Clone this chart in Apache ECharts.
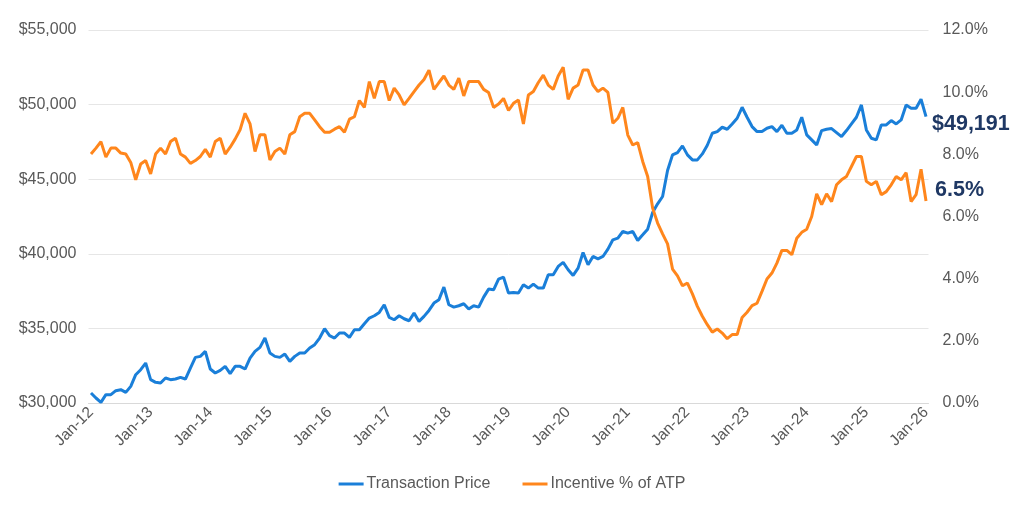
<!DOCTYPE html>
<html><head><meta charset="utf-8">
<script src="https://cdn.jsdelivr.net/npm/echarts@6/dist/echarts.min.js"></script>
<style>html,body{margin:0;padding:0;background:#fff}#c{width:1024px;height:508px}</style>
</head><body><div id="c"></div>
<script>
const monthNames = ['Jan','Feb','Mar','Apr','May','Jun','Jul','Aug','Sep','Oct','Nov','Dec'];
const yearLabels = ['12','13','14','15','16','17','18','19','20','21','22','23','24','25','26'];

const transactionPrice = [
30670,30335,30045,30558,30558,30826,30893,30714,31116,31897,32232,32679,
31563,31384,31339,31674,31563,31607,31719,31607,32344,33058,33125,33460,
32277,32009,32188,32455,31964,32455,32455,32277,33013,33460,33728,34353,
33348,33125,33058,33281,32790,33125,33348,33348,33683,33906,34353,34978,
34509,34353,34688,34688,34397,34911,34911,35313,35692,35848,36071,36585,
35737,35580,35848,35647,35513,36027,35469,35804,36205,36696,36920,37768,
36585,36429,36518,36652,36295,36518,36429,37098,37634,37589,38304,38438,
37366,37411,37366,37924,37701,37969,37701,37701,38594,38594,39152,39420,
38929,38549,39040,40089,39263,39821,39665,39821,40313,40938,41049,41496,
41384,41496,40893,41272,41652,42768,43348,43839,45580,46629,46786,47232,
46629,46295,46295,46696,47277,48080,48192,48482,48348,48705,49085,49821,
49152,48527,48192,48192,48415,48527,48192,48616,48080,48080,48304,49152,
47969,47634,47299,48259,48348,48393,48125,47857,48259,48705,49152,49978,
48304,47746,47634,48638,48638,48929,48705,48973,49978,49754,49754,50357,
49191
];

const incentivePct = [
8.01,8.20,8.41,7.91,8.20,8.20,8.04,8.01,7.74,7.18,7.69,7.80,
7.37,8.01,8.20,8.01,8.41,8.52,8.01,7.91,7.71,7.80,7.93,8.16,
7.91,8.41,8.52,8.01,8.23,8.49,8.79,9.32,8.98,8.09,8.63,8.63,
7.82,8.09,8.20,8.01,8.63,8.73,9.21,9.32,9.32,9.11,8.89,8.71,
8.71,8.81,8.89,8.71,9.13,9.21,9.73,9.51,10.34,9.80,10.34,10.34,
9.73,10.13,9.91,9.59,9.80,10.02,10.23,10.41,10.71,10.09,10.31,10.52,
10.23,10.09,10.45,9.88,10.34,10.34,10.34,10.09,9.99,9.51,9.62,9.80,
9.41,9.64,9.75,8.98,9.91,10.02,10.31,10.55,10.23,10.09,10.52,10.80,
9.77,10.13,10.23,10.71,10.71,10.23,10.02,10.13,9.99,9.00,9.16,9.51,
8.62,8.30,8.38,7.77,7.29,6.27,5.79,5.44,5.12,4.31,4.09,3.77,
3.86,3.51,3.11,2.79,2.52,2.28,2.38,2.25,2.07,2.20,2.20,2.75,
2.92,3.13,3.21,3.59,3.99,4.18,4.50,4.91,4.91,4.77,5.30,5.49,
5.59,6.00,6.73,6.38,6.73,6.48,7.02,7.18,7.29,7.61,7.93,7.93,
7.13,7.02,7.13,6.70,6.80,7.02,7.29,7.18,7.41,6.48,6.70,7.52,
6.50
];

const categories = [];
for (let y = 0; y < yearLabels.length; y++) {
  for (let m = 0; m < 12; m++) {
    if (y === yearLabels.length - 1 && m > 0) break;
    categories.push(monthNames[m] + '-' + yearLabels[y]);
  }
}

const FONT = '"Liberation Sans", Arial, sans-serif';
const GRAY = '#595959';
const BLUE = '#1a7fd9';
const ORANGE = '#ff861c';
const NAVY = '#1f3864';

const lastPrice = transactionPrice[transactionPrice.length - 1];
const lastPct = incentivePct[incentivePct.length - 1];

const chart = echarts.init(document.getElementById('c'), null, {renderer: 'canvas'});
chart.setOption({
  animation: false,
  backgroundColor: '#fff',
  textStyle: {fontFamily: FONT},
  grid: {left: 88.5, right: 95.5, top: 30, bottom: 105, containLabel: false},
  legend: {
    top: 471, left: 'center',
    icon: 'rect', itemWidth: 25, itemHeight: 3, itemGap: 32,
    textStyle: {fontSize: 16, color: GRAY, fontFamily: FONT, padding: [0, 0, 0, -2]},
    data: ['Transaction Price', 'Incentive % of ATP']
  },
  xAxis: {
    type: 'category', data: categories, boundaryGap: true,
    axisLine: {lineStyle: {color: '#d9d9d9', width: 1}},
    axisTick: {interval: 11, length: 5, lineStyle: {color: '#d9d9d9'}},
    axisLabel: {interval: 11, rotate: 45, fontSize: 15.5, color: GRAY, margin: 7, fontFamily: FONT}
  },
  yAxis: [{
    type: 'value', min: 30000, max: 55000, interval: 5000,
    axisLine: {show: false}, axisTick: {show: false},
    splitLine: {lineStyle: {color: '#e6e6e6', width: 1}},
    axisLabel: {fontSize: 16, color: GRAY, margin: 12, fontFamily: FONT,
      formatter: v => '$' + v.toLocaleString('en-US')}
  }, {
    type: 'value', min: 0, max: 12, interval: 2,
    axisLine: {show: false}, axisTick: {show: false}, splitLine: {show: false},
    axisLabel: {fontSize: 16, color: GRAY, margin: 14, fontFamily: FONT,
      formatter: v => v.toFixed(1) + '%'}
  }],
  series: [{
    name: 'Transaction Price', type: 'line', yAxisIndex: 0,
    data: transactionPrice, showSymbol: false, symbol: 'none',
    lineStyle: {color: BLUE, width: 3}, itemStyle: {color: BLUE},
    endLabel: {show: true, formatter: () => '$' + lastPrice.toLocaleString('en-US'),
      color: NAVY, fontWeight: 'bold', fontSize: 21.5, fontFamily: FONT, distance: 6, offset: [0, 7]}
  }, {
    name: 'Incentive % of ATP', type: 'line', yAxisIndex: 1,
    data: incentivePct, showSymbol: false, symbol: 'none',
    lineStyle: {color: ORANGE, width: 3}, itemStyle: {color: ORANGE},
    endLabel: {show: true, formatter: () => lastPct.toFixed(1) + '%',
      color: NAVY, fontWeight: 'bold', fontSize: 21.5, fontFamily: FONT, distance: 9, offset: [0, -11]}
  }]
});
</script></body></html>
